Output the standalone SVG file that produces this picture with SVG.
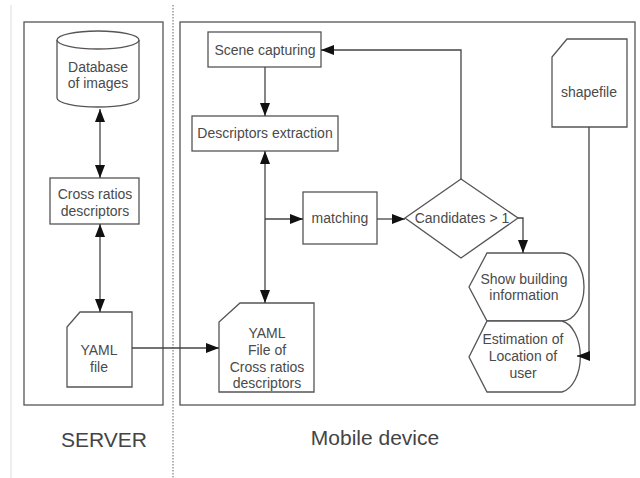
<svg xmlns="http://www.w3.org/2000/svg" width="640" height="478" viewBox="0 0 640 478">
<style>
.s{fill:#fff;stroke:#555;stroke-width:1.3}
.f{fill:none;stroke:#555;stroke-width:1.3}
.t{font-family:"Liberation Sans",Arial,sans-serif;font-size:14px;fill:#4a4a4a;text-anchor:middle}
.big{font-family:"Liberation Sans",Arial,sans-serif;font-size:21px;fill:#444;text-anchor:middle}
.c{fill:none;stroke:#444;stroke-width:1.3}
</style>
<defs>
<marker id="a" viewBox="0 0 13 10" refX="13" refY="5" markerWidth="13" markerHeight="10" markerUnits="userSpaceOnUse" orient="auto-start-reverse">
<path d="M0,0 L13,5 L0,10 z" fill="#111"/>
</marker>
</defs>
<rect width="640" height="478" fill="#fff"/>
<line x1="11" y1="5" x2="11" y2="478" stroke="#ddd" stroke-width="1"/>
<line x1="173" y1="5" x2="173" y2="478" stroke="#666" stroke-width="1" stroke-dasharray="1.5,1.5"/>
<g id="server">
<rect class="f" x="24" y="22" width="139" height="383"/>
<text class="big" x="104" y="447">SERVER</text>
</g>
<g id="mobile">
<rect class="f" x="180" y="22" width="455" height="383"/>
<text class="big" x="375" y="445">Mobile device</text>
</g>
<g id="db">
<path class="s" d="M57,40 A41,9 0 0 1 139,40 L139,98 A41,9 0 0 1 57,98 Z"/>
<path class="f" d="M57,40 A41,9 0 0 0 139,40"/>
<text class="t" x="98" y="72">Database</text>
<text class="t" x="98" y="88">of images</text>
</g>
<g id="cross">
<rect class="s" x="50" y="178" width="89" height="46"/>
<text class="t" x="95" y="199">Cross ratios</text>
<text class="t" x="95" y="216">descriptors</text>
</g>
<g id="yaml1">
<path class="s" d="M80,312 L132,312 L132,387 L67,387 L67,327 Z"/>
<text class="t" x="99" y="355">YAML</text>
<text class="t" x="99" y="372">file</text>
</g>
<g id="scene">
<rect class="s" x="208" y="32" width="113" height="35"/>
<text class="t" x="265" y="55">Scene capturing</text>
</g>
<g id="desc">
<rect class="s" x="192" y="116" width="146" height="35"/>
<text class="t" x="265" y="138">Descriptors extraction</text>
</g>
<g id="matching">
<rect class="s" x="303" y="192" width="74" height="52"/>
<text class="t" x="340" y="223">matching</text>
</g>
<g id="cand">
<path class="s" d="M461,179 L518,218 L461,258 L405,218 Z"/>
<text class="t" x="462" y="223">Candidates &gt; 1</text>
</g>
<g id="yaml2">
<path class="s" d="M240,303 L314,303 L314,392 L219,392 L219,322 Z"/>
<text class="t" x="267" y="338">YAML</text>
<text class="t" x="267" y="355">File of</text>
<text class="t" x="267" y="372">Cross ratios</text>
<text class="t" x="267" y="388">descriptors</text>
</g>
<g id="shapefile">
<path class="s" d="M567,39 L627,39 L627,127 L552,127 L552,57 Z"/>
<text class="t" x="589" y="97">shapefile</text>
</g>
<g id="show">
<path class="s" d="M487,253 L562,253 A22,34 0 0 1 562,321 L487,321 L469,287 Z"/>
<text class="t" x="524" y="284">Show building</text>
<text class="t" x="524" y="300">information</text>
</g>
<g id="estim">
<path class="s" d="M487,321 L562,321 A22,36 0 0 1 562,392 L487,392 L469,357 Z"/>
<text class="t" x="523" y="344">Estimation of</text>
<text class="t" x="523" y="361">Location of</text>
<text class="t" x="523" y="378">user</text>
</g>
<g id="connectors">
<line class="c" x1="100" y1="109" x2="100" y2="178" marker-start="url(#a)" marker-end="url(#a)"/>
<line class="c" x1="100" y1="224" x2="100" y2="312" marker-start="url(#a)" marker-end="url(#a)"/>
<line class="c" x1="132" y1="348" x2="219" y2="348" marker-end="url(#a)"/>
<line class="c" x1="265" y1="67" x2="265" y2="116" marker-end="url(#a)"/>
<line class="c" x1="265" y1="151" x2="265" y2="303" marker-start="url(#a)" marker-end="url(#a)"/>
<line class="c" x1="265" y1="219" x2="303" y2="219" marker-end="url(#a)"/>
<line class="c" x1="377" y1="219" x2="405" y2="219" marker-end="url(#a)"/>
<polyline class="c" points="461,179 461,50 321,50" marker-end="url(#a)"/>
<polyline class="c" points="518,218 523,218 523,253" marker-end="url(#a)"/>
<polyline class="c" points="589,127 589,356 577,356" marker-end="url(#a)"/>
</g>
</svg>
